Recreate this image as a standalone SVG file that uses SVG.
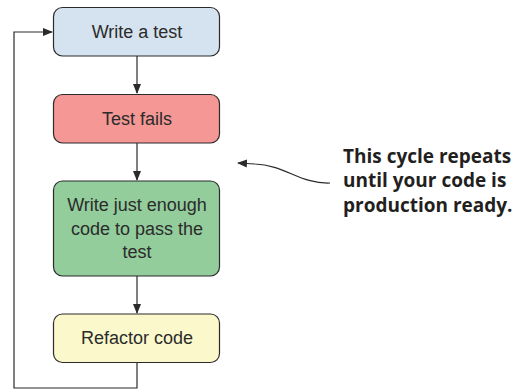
<svg xmlns="http://www.w3.org/2000/svg" width="518" height="392" viewBox="0 0 518 392">
<style>
.box{stroke:#2b2b2b;stroke-width:1.2}
.lbl{font-family:"Liberation Sans",Arial,sans-serif;font-size:18px;fill:#2b2b2b;text-anchor:middle}
.ln{fill:none;stroke:#2b2b2b;stroke-width:1.2}
.note{font-family:"Open Sans","Liberation Sans",sans-serif;font-weight:bold;font-size:19px;fill:#231f20}
</style>
<defs>
<marker id="ah" markerWidth="10" markerHeight="8" refX="9" refY="4" orient="auto" markerUnits="userSpaceOnUse">
<path d="M0,0 L10,4 L0,8 Z" fill="#2b2b2b"/>
</marker>
</defs>
<rect width="518" height="392" fill="#fff"/>
<g id="connectors">
<path class="ln" d="M137,56 V93" marker-end="url(#ah)"/>
<path class="ln" d="M137,143 V180" marker-end="url(#ah)"/>
<path class="ln" d="M137,276 V313" marker-end="url(#ah)"/>
<path class="ln" d="M137,363 V388 H14 V32 H52" marker-end="url(#ah)"/>
<path class="ln" d="M330,183 C300,184 285,165 255,164 L238,163" marker-end="url(#ah)"/>
</g>
<g id="write-test">
<rect class="box" x="53.5" y="7.5" width="166" height="48.5" rx="9" fill="#d5e3f0"/>
<text class="lbl" x="137" y="38">Write a test</text>
</g>
<g id="test-fails">
<rect class="box" x="53.5" y="94.5" width="166" height="48.5" rx="9" fill="#f49795"/>
<text class="lbl" x="137" y="125">Test fails</text>
</g>
<g id="write-code">
<rect class="box" x="53.5" y="181" width="166" height="95" rx="9" fill="#93cd9c"/>
<text class="lbl" x="137" y="211">Write just enough</text>
<text class="lbl" x="137" y="235">code to pass the</text>
<text class="lbl" x="137" y="258">test</text>
</g>
<g id="refactor">
<rect class="box" x="53.5" y="314" width="166" height="48.5" rx="9" fill="#fbf8cc"/>
<text class="lbl" x="137" y="344">Refactor code</text>
</g>
<g id="note">
<text class="note" x="343" y="162.5">This cycle repeats</text>
<text class="note" x="343" y="187">until your code is</text>
<text class="note" x="343" y="211.5">production ready.</text>
</g>
</svg>
